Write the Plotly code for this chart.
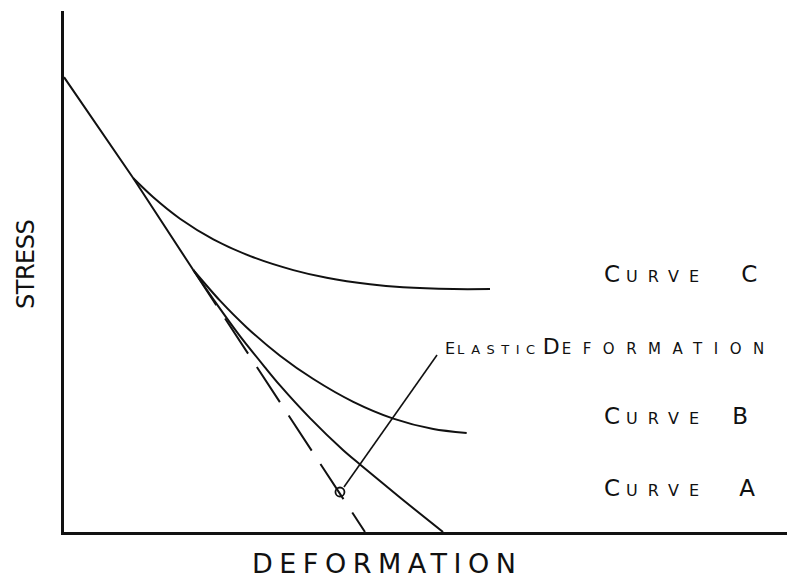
import plotly.graph_objects as go

# ---- data (arbitrary units: deformation 0-100, stress 0-100) ----
elastic_x = [0.0, 9.47, 17.66]
elastic_y = [87.3, 67.89, 50.29]
elastic_ext_x = [17.66, 41.12]
elastic_ext_y = [50.29, 0.0]
curve_c_x = [9.47, 12.20, 15.85, 20.40, 25.86, 31.33, 35.89, 41.80, 46.31, 53.18, 58.20]
curve_c_y = [67.89, 64.24, 60.13, 56.18, 52.73, 50.27, 48.79, 47.54, 46.97, 46.62, 46.62]
curve_b_x = [17.66, 21.31, 24.96, 29.51, 34.06, 39.52, 44.99, 50.45, 55.01]
curve_b_y = [50.29, 44.40, 39.27, 33.84, 29.37, 24.99, 21.77, 19.77, 19.0]
curve_a_x = [17.66, 20.63, 24.04, 27.46, 29.51, 33.61, 38.11, 40.44, 45.90, 51.78]
curve_a_y = [50.29, 44.22, 37.60, 31.61, 28.14, 21.86, 15.74, 12.96, 6.62, 0.0]
point_x = [37.70]
point_y = [7.68]
leader_x = [38.25, 50.96]
leader_y = [8.64, 33.97]

curve_labels = ["CURVE C", "CURVE B", "CURVE A"]
curve_label_y = [49.6, 22.3, 8.45]
curve_label_gap = [27, 18, 25]
elastic_words = ["ELASTIC", "DEFORMATION"]
x_title = "DEFORMATION"
y_title = "STRESS"

INK = "#111111"
FONT = "DejaVu Sans"


def sp(txt, size, ls):
    return f'<span style="font-size:{size}px;letter-spacing:{ls}px">{txt}</span>'


def small_caps(text, big, small, ls_big, ls_small, ls_space):
    words = text.split(" ")
    parts = []
    for i, w in enumerate(words):
        parts.append(sp(w[0], big, ls_big))
        if len(w) > 1:
            parts.append(sp(w[1:], small, ls_small))
        if i < len(words) - 1:
            parts.append(sp(" ", small, ls_space))
    return "".join(parts)


fig = go.Figure()
fig.add_trace(go.Scatter(x=elastic_x, y=elastic_y, mode="lines", line=dict(color=INK, width=2)))
fig.add_trace(go.Scatter(x=elastic_ext_x, y=elastic_ext_y, mode="lines",
                         line=dict(color=INK, width=2, dash="42px,16px")))
for cx, cy in [(curve_c_x, curve_c_y), (curve_b_x, curve_b_y), (curve_a_x, curve_a_y)]:
    fig.add_trace(go.Scatter(x=cx, y=cy, mode="lines",
                             line=dict(color=INK, width=2, shape="spline", smoothing=0.8)))
fig.add_trace(go.Scatter(x=leader_x, y=leader_y, mode="lines", line=dict(color=INK, width=1.6)))
fig.add_trace(go.Scatter(x=point_x, y=point_y, mode="markers",
                         marker=dict(symbol="circle-open", size=9, color=INK, line=dict(width=1.8))))

annotations = []
for lab, ly, gap in zip(curve_labels, curve_label_y, curve_label_gap):
    annotations.append(dict(x=73.77, y=ly, xref="x", yref="y", showarrow=False,
                            xanchor="left", yanchor="middle", borderpad=0, borderwidth=0,
                            text=small_caps(lab, 23, 16, 6, 10, gap),
                            font=dict(family=FONT, size=23, color=INK)))

elastic_text = (sp(elastic_words[0][0], 16, 2) + sp(elastic_words[0][1:], 13, 6.5)
                + sp(" ", 13, -3)
                + sp(elastic_words[1][0], 22, 2) + sp(elastic_words[1][1:], 15, 11.5))
annotations.append(dict(x=52.0, y=35.7, xref="x", yref="y", showarrow=False,
                        xanchor="left", yanchor="middle", borderpad=0, borderwidth=0,
                        text=elastic_text,
                        font=dict(family=FONT, size=22, color=INK)))
annotations.append(dict(x=0.2568, y=-0.0614, xref="paper", yref="paper", showarrow=False,
                        xanchor="left", yanchor="middle", borderpad=0, borderwidth=0,
                        text=sp(x_title, 27, 6.5),
                        font=dict(family=FONT, size=27, color=INK)))
annotations.append(dict(x=-0.0519, y=0.5125, xref="paper", yref="paper", showarrow=False,
                        xanchor="center", yanchor="middle", textangle=-90,
                        borderpad=0, borderwidth=0,
                        text=sp(y_title, 24, -0.5),
                        font=dict(family=FONT, size=24, color=INK)))

fig.update_layout(
    width=788, height=574,
    margin=dict(l=56, r=0, t=3, b=50),
    paper_bgcolor="white", plot_bgcolor="white",
    showlegend=False,
    annotations=annotations,
    xaxis=dict(range=[0, 100], showgrid=False, zeroline=False, showticklabels=False,
               ticks="", showline=True, linecolor=INK, linewidth=3),
    yaxis=dict(range=[0, 100], showgrid=False, zeroline=False, showticklabels=False,
               ticks="", showline=True, linecolor=INK, linewidth=3),
)
fig.write_html("out.html")
